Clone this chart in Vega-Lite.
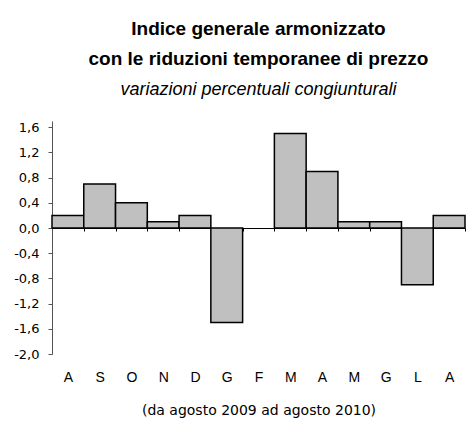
{
  "$schema": "https://vega.github.io/schema/vega-lite/v6.json",
  "width": 413,
  "height": 233,
  "autosize": "none",
  "padding": {"left": 52, "top": 121, "right": 1, "bottom": 71},
  "config": {
    "view": {"stroke": null},
    "font": "Liberation Sans",
    "background": "white"
  },
  "title": {
    "text": ["Indice generale armonizzato", "con le riduzioni temporanee di prezzo"],
    "subtitle": "variazioni percentuali congiunturali",
    "anchor": "middle",
    "font": "Liberation Sans",
    "fontSize": 19,
    "fontWeight": "bold",
    "color": "black",
    "lineHeight": 30,
    "subtitleFont": "Liberation Sans",
    "subtitleFontSize": 18,
    "subtitleFontStyle": "italic",
    "subtitleColor": "black",
    "subtitlePadding": 12,
    "offset": 22
  },
  "data": {
    "values": [
      {"mese": "A (ago 2009)", "v": 0.2},
      {"mese": "S (set 2009)", "v": 0.7},
      {"mese": "O (ott 2009)", "v": 0.4},
      {"mese": "N (nov 2009)", "v": 0.1},
      {"mese": "D (dic 2009)", "v": 0.2},
      {"mese": "G (gen 2010)", "v": -1.5},
      {"mese": "F (feb 2010)", "v": 0.0},
      {"mese": "M (mar 2010)", "v": 1.5},
      {"mese": "A (apr 2010)", "v": 0.9},
      {"mese": "M (mag 2010)", "v": 0.1},
      {"mese": "G (giu 2010)", "v": 0.1},
      {"mese": "L (lug 2010)", "v": -0.9},
      {"mese": "A (ago 2010)", "v": 0.2}
    ]
  },
  "mark": {"type": "bar", "fill": "#c0c0c0", "stroke": "black", "cornerRadius": 0},
  "encoding": {
    "x": {
      "field": "mese",
      "type": "nominal",
      "sort": null,
      "scale": {"paddingInner": 0, "paddingOuter": 0},
      "axis": {
        "orient": "bottom",
        "offset": -126,
        "title": "(da agosto 2009 ad agosto 2010)",
        "titleFont": "DejaVu Sans",
        "titleFontSize": 14,
        "titleFontWeight": "normal",
        "titleColor": "black",
        "titlePadding": 19,
        "labelExpr": "datum.value ? substring(datum.value, 0, 1) : ''",
        "labelAngle": 0,
        "labelFont": "Liberation Sans",
        "labelFontSize": 14,
        "labelColor": "black",
        "labelPadding": 139,
        "domainColor": "black",
        "domainWidth": 1,
        "tickColor": "black",
        "tickSize": 3,
        "tickBand": "extent",
        "grid": false
      }
    },
    "y": {
      "field": "v",
      "type": "quantitative",
      "scale": {"domain": [-2, 1.7], "nice": false, "zero": false},
      "axis": {
        "title": null,
        "values": [-2, -1.6, -1.2, -0.8, -0.4, 0, 0.4, 0.8, 1.2, 1.6],
        "labelExpr": "(datum.value < 0 ? '-' : '') + replace(format(abs(datum.value), '.1f'), '.', ',')",
        "labelFont": "DejaVu Sans",
        "labelFontSize": 13,
        "labelColor": "black",
        "labelPadding": 9,
        "domainColor": "#555555",
        "tickColor": "#555555",
        "tickSize": 4,
        "grid": false
      }
    },
    "strokeWidth": {
      "condition": {"test": "datum.v === 0", "value": 0},
      "value": 1.5
    }
  }
}
